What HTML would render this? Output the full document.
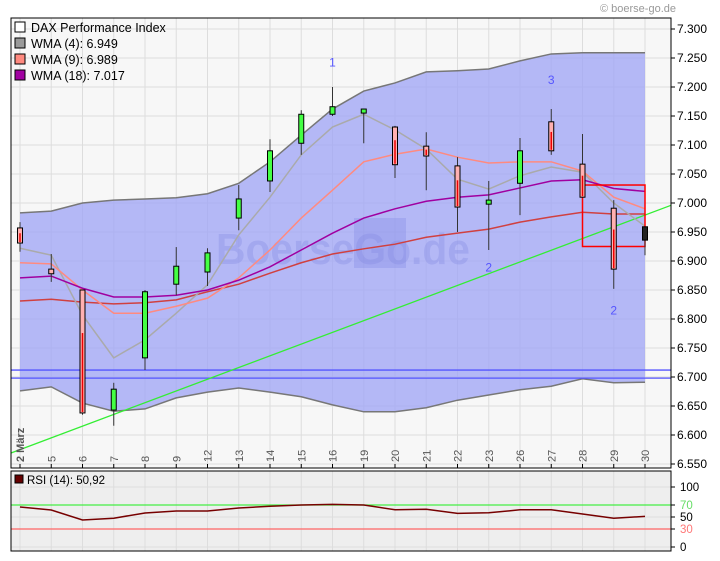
<!DOCTYPE html>
<html><head><meta charset="utf-8"><style>
body{margin:0;background:#fff;}
svg{display:block;font-family:"Liberation Sans",sans-serif;}
</style></head><body>
<svg id="chart" width="720" height="561" xmlns="http://www.w3.org/2000/svg">
<text x="676" y="12" font-size="11" fill="#999" text-anchor="end">© boerse-go.de</text>
<rect x="11" y="18" width="660" height="450" fill="#f7f7f7"/>
<g id="grid"></g>
<g id="bands"></g>
<rect x="354" y="218" width="52" height="50" fill="#7f86e0" opacity="0.3"/>
<text x="216" y="264" font-size="44" font-weight="bold" fill="#7f86e0" opacity="0.3" textLength="254" lengthAdjust="spacingAndGlyphs">BoerseGo.de</text>
<g id="lines"></g>
<g id="candles"></g>
<g id="annot"></g>
<rect x="11" y="18" width="660" height="450" fill="none" stroke="#000"/>
<g id="legend" font-size="12.5">
<rect x="15" y="22" width="10" height="10" fill="#fff" stroke="#000"/>
<text x="31" y="32">DAX Performance Index</text>
<rect x="15" y="38" width="10" height="10" fill="#999" stroke="#000"/>
<text x="31" y="48">WMA (4): 6.949</text>
<rect x="15" y="54" width="10" height="10" fill="#ff8a80" stroke="#000"/>
<text x="31" y="64">WMA (9): 6.989</text>
<rect x="15" y="70" width="10" height="10" fill="#a000a0" stroke="#000"/>
<text x="31" y="80">WMA (18): 7.017</text>
</g>
<g id="yaxis" font-size="12"></g>
<g id="xaxis" font-size="11"></g>
<rect x="11" y="471" width="660" height="80" fill="#eee"/>
<g id="rsi"></g>
<rect x="11" y="471" width="660" height="80" fill="none" stroke="#000"/>
<rect x="15" y="475" width="8" height="8" fill="#600" stroke="#000"/>
<text x="27" y="484" font-size="11.5">RSI (14): 50,92</text>
</svg>
<script>
const days=["2 März","5","6","7","8","9","12","13","14","15","16","19","20","21","22","23","26","27","28","29","30"];
const opens=[6.957,6.886,6.850,6.643,6.733,6.860,6.881,6.974,7.038,7.103,7.153,7.155,7.131,7.098,7.064,6.998,7.034,7.140,7.067,6.991,6.959];
const highs=[6.967,6.912,6.850,6.690,6.850,6.924,6.922,7.031,7.110,7.160,7.200,7.162,7.133,7.122,7.079,7.038,7.112,7.162,7.119,7.005,6.959];
const lows=[6.916,6.864,6.635,6.616,6.712,6.841,6.857,6.953,7.019,7.083,7.150,7.103,7.043,7.022,6.950,6.919,6.979,7.083,7.010,6.852,6.910];
const closes=[6.931,6.878,6.638,6.679,6.847,6.891,6.914,7.007,7.090,7.153,7.166,7.162,7.066,7.081,6.993,7.005,7.090,7.090,7.010,6.886,6.936];
const upperBand=[6.983,6.986,7.000,7.005,7.007,7.009,7.016,7.034,7.071,7.117,7.162,7.193,7.207,7.226,7.228,7.231,7.245,7.257,7.259,7.259,7.259];
const lowerBand=[6.676,6.683,6.655,6.641,6.645,6.664,6.674,6.681,6.674,6.666,6.652,6.640,6.640,6.647,6.660,6.669,6.678,6.684,6.697,6.690,6.691];
const wma4=[6.922,6.910,6.807,6.733,6.764,6.810,6.859,6.945,7.010,7.083,7.131,7.153,7.126,7.093,7.041,7.024,7.047,7.062,7.053,7.000,6.960];
const wma9=[6.897,6.895,6.850,6.810,6.810,6.822,6.836,6.871,6.919,6.974,7.022,7.071,7.084,7.093,7.079,7.069,7.071,7.071,7.055,7.010,6.990];
const wma18=[6.871,6.874,6.853,6.838,6.838,6.841,6.850,6.867,6.890,6.919,6.948,6.974,6.990,7.003,7.010,7.014,7.026,7.038,7.040,7.025,7.020];
const midLine=[6.831,6.834,6.829,6.826,6.828,6.833,6.847,6.860,6.879,6.897,6.912,6.921,6.929,6.941,6.948,6.955,6.967,6.976,6.984,6.981,6.981];
const rsiValues=[66.7,61.7,45,48,56.7,60,60,65,68,70,71,70,62,63,56,57,62,62,55,48,51];
const priceTicks=["7.300","7.250","7.200","7.150","7.100","7.050","7.000","6.950","6.900","6.850","6.800","6.750","6.700","6.650","6.600","6.550"];
const rsiTicks=[100,70,50,30,0];
const hLines=[6.712,6.698];
const trend=[6.569,6.996];
const boxRange=[7.031,6.925];
const labels=[["1",10,7.235],["3",17,7.205],["2",15,6.882],["2",19,6.808]];

const NS="http://www.w3.org/2000/svg";
const X=i=>20+i*31.25;
const Y=v=>29+(7.3-v)/0.05*29;
const RY=v=>547-v*0.6;
function mk(tag,parent,at){const e=document.createElementNS(NS,tag);for(const k in at)e.setAttribute(k,at[k]);document.getElementById(parent).appendChild(e);return e;}
priceTicks.forEach(t=>{const y=Y(+t);
 const l=mk('line','grid',{x1:11,x2:671,y1:y,y2:y,stroke:'#ddd'});
 
 
 mk('line','yaxis',{x1:671,x2:675,y1:y,y2:y,stroke:'#000'});
 const tx=mk('text','yaxis',{x:677,y:y+4});tx.textContent=t;
 
 
});
days.forEach((d,i)=>{const x=X(i);
 const l=mk('line','grid',{x1:x,x2:x,y1:18,y2:468,stroke:'#ddd'});
 
 
 mk('line','xaxis',{x1:x,x2:x,y1:464,y2:468,stroke:'#000'});
 const tx=mk('text','xaxis',{x:0,y:0,transform:`translate(${x+4},462) rotate(-90)`,fill:'#555','font-weight':i==0?'bold':'normal'});
 tx.textContent=d;
 
 
 mk('line','rsi',{x1:x,x2:x,y1:471,y2:551,stroke:'#ddd'});
});
const up=upperBand.map((v,i)=>X(i)+','+Y(v)),lo=lowerBand.map((v,i)=>X(i)+','+Y(v)).reverse();
const area=mk('polygon','bands',{points:up.concat(lo).join(' '),fill:'#9ea3f5',opacity:'0.75'});


[[upperBand,'upper-band'],[lowerBand,'lower-band']].forEach(([a,n])=>{
 const p=mk('polyline','bands',{points:a.map((v,i)=>X(i)+','+Y(v)).join(' '),fill:'none',stroke:'#777','stroke-width':1.5});
 
 
});
hLines.forEach(v=>{const l=mk('line','lines',{x1:11,x2:671,y1:Y(v),y2:Y(v),stroke:'#5555ff','stroke-width':1.3});
 
 });
const tl=mk('line','lines',{x1:11,x2:671,y1:Y(trend[0]),y2:Y(trend[1]),stroke:'#33ee33','stroke-width':1.3});


[[midLine,'#d04040','mid-line'],[wma4,'#aaa','wma4-line'],[wma9,'#ff8a80','wma9-line'],[wma18,'#a000a0','wma18-line']].forEach(([a,c,n])=>{
 const p=mk('polyline','lines',{points:a.map((v,i)=>X(i)+','+Y(v)).join(' '),fill:'none',stroke:c,'stroke-width':1.5});
 
 
});
const bx=mk('rect','lines',{x:X(18),y:Y(boxRange[0]),width:X(20)-X(18),height:Y(boxRange[1])-Y(boxRange[0]),fill:'none',stroke:'#f00','stroke-width':1.5});


days.forEach((d,i)=>{const x=X(i),o=opens[i],c=closes[i];
 mk('line','candles',{x1:x,x2:x,y1:Y(highs[i]),y2:Y(lows[i]),stroke:'#333'});
 const top=Y(Math.max(o,c)),h=Math.max(2,Math.abs(Y(o)-Y(c)));
 const up=c>=o,last=i==days.length-1;
 const r=mk('rect','candles',{x:x-2.5,y:top,width:5,height:h,fill:last?'#222':(up?'#4f4':'#ffb0b0'),stroke:'#000','stroke-width':1});
 
 
 if(!up&&!last&&h>6)mk('line','candles',{x1:x,x2:x,y1:top+h*0.35,y2:top+h-1,stroke:'#e00','stroke-width':1.5});
});
labels.forEach(([t,i,v])=>{const tx=mk('text','annot',{x:X(i),y:Y(v),fill:'#5555ff','font-size':12,'text-anchor':'middle'});tx.textContent=t;
 
 });
rsiTicks.forEach(t=>{const y=RY(t);
 const col=t==70?'#4e4':t==30?'#f66':'#ddd';
 mk('line','rsi',{x1:11,x2:671,y1:y,y2:y,stroke:col,'stroke-width':t==70||t==30?1.3:1});
 mk('line','rsi',{x1:671,x2:675,y1:y,y2:y,stroke:'#000'});
 const tx=mk('text','rsi',{x:680,y:y+4,'font-size':11.5,fill:t==70?'#6d6':t==30?'#f77':'#000'});tx.textContent=t;
 
 
});
const rl=mk('polyline','rsi',{points:rsiValues.map((v,i)=>X(i)+','+RY(v)).join(' '),fill:'none',stroke:'#700','stroke-width':1.5});


</script>
</body></html>
